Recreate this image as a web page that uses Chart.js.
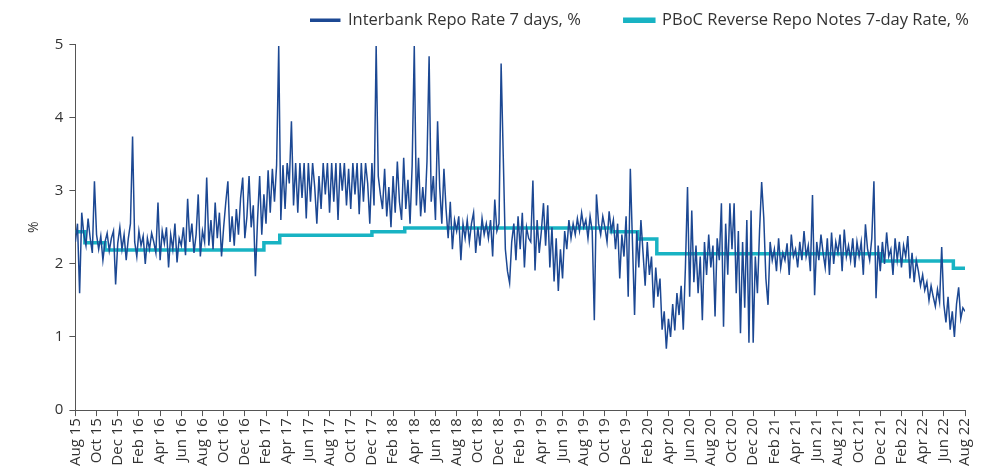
<!DOCTYPE html>
<html>
<head>
<meta charset="utf-8">
<script src="https://cdn.jsdelivr.net/npm/chart.js@4.4.1/dist/chart.umd.min.js"></script>
<style>
  html, body { margin: 0; padding: 0; background: #fff; }
  #wrap { width: 989px; height: 474px; }
</style>
</head>
<body>
<div id="wrap"><canvas id="myChart"></canvas></div>
<script>
// x axis: months since Aug 2015, labels every 2 months
const tickLabels = ["Aug 15", "Oct 15", "Dec 15", "Feb 16", "Apr 16", "Jun 16", "Aug 16", "Oct 16", "Dec 16",
    "Feb 17", "Apr 17", "Jun 17", "Aug 17", "Oct 17", "Dec 17", "Feb 18", "Apr 18", "Jun 18", "Aug 18",
    "Oct 18", "Dec 18", "Feb 19", "Apr 19", "Jun 19", "Aug 19", "Oct 19", "Dec 19", "Feb 20", "Apr 20",
    "Jun 20", "Aug 20", "Oct 20", "Dec 20", "Feb 21", "Apr 21", "Jun 21", "Aug 21", "Oct 21", "Dec 21",
    "Feb 22", "Apr 22", "Jun 22", "Aug 22"];

// Interbank repo rate 7 days, 5 readings per month from Aug 15
const perMonth = 5;
const interbankRates = [
    2.30, 2.55, 1.60, 2.70, 2.40,
    2.25, 2.62, 2.35, 2.15, 3.13,
    2.40, 2.20, 2.38, 2.05, 2.30,
    2.42, 2.18, 2.35, 2.45, 1.72,
    2.28, 2.50, 2.20, 2.40, 2.05,
    2.35, 2.55, 3.74, 2.30, 2.10,
    2.45, 2.25, 2.38, 2.00, 2.35,
    2.20, 2.42, 2.30, 2.15, 2.84,
    2.05, 2.45, 2.28, 2.50, 1.95,
    2.40, 2.20, 2.55, 2.02, 2.35,
    2.25, 2.50, 2.12, 2.89, 2.30,
    2.55, 2.15, 2.40, 2.95, 2.10,
    2.45, 2.30, 3.18, 2.25, 2.60,
    2.20, 2.84, 2.35, 2.70, 2.10,
    2.50, 2.84, 3.13, 2.30, 2.65,
    2.25, 2.75, 2.40, 2.90, 3.18,
    2.35, 2.65, 3.20, 2.50, 2.80,
    1.83, 2.60, 3.20, 2.40, 2.95,
    2.55, 3.28, 2.70, 3.30, 2.85,
    3.35, 4.98, 2.60, 3.35, 2.75,
    3.38, 3.10, 3.95, 2.80, 3.38,
    2.70, 3.38, 2.90, 3.38, 2.62,
    3.38, 2.85, 3.38, 3.05, 2.55,
    3.20, 2.75, 3.38, 2.95, 3.38,
    2.70, 3.38, 2.85, 3.38, 2.60,
    3.38, 3.00, 3.38, 2.80, 3.30,
    2.75, 3.38, 2.95, 3.38, 2.68,
    3.38, 2.85, 3.38, 3.10, 2.55,
    3.38, 2.80, 4.98, 3.20, 2.95,
    2.75, 3.30, 2.65, 3.05, 2.50,
    3.20, 2.70, 3.40, 2.85, 2.60,
    3.45, 2.75, 3.15, 2.55, 3.35,
    4.98, 2.80, 3.45, 2.65, 3.05,
    2.70, 3.40, 4.84, 2.85, 3.20,
    2.60, 3.95, 3.05, 2.55, 3.30,
    2.75, 2.35, 2.85, 2.20, 2.60,
    2.45, 2.65, 2.05, 2.55, 2.35,
    2.60, 2.30, 2.55, 2.70, 2.15,
    2.50, 2.25, 2.62, 2.40, 2.55,
    2.35, 2.60, 2.10, 2.88, 2.45,
    2.55, 4.74, 3.48, 2.20, 1.90,
    1.74, 2.30, 2.55, 2.05, 2.65,
    2.20, 2.70, 1.95, 2.50, 2.35,
    2.30, 3.14, 1.91, 2.60, 2.15,
    2.45, 2.83, 2.25, 2.80, 1.95,
    2.50, 1.76, 2.35, 1.63, 2.20,
    1.80, 2.45, 2.20, 2.60, 2.35,
    2.55, 2.40, 2.62, 2.45, 2.70,
    2.50, 2.60, 2.35, 2.65, 2.45,
    1.23, 2.95, 2.55, 2.40, 2.65,
    2.50, 2.30, 2.72, 2.45, 2.60,
    2.20, 2.55, 1.80, 2.40, 2.10,
    2.65, 1.55, 3.30, 2.30, 1.30,
    2.45, 1.95, 2.60, 2.15, 1.70,
    2.30, 1.85, 2.10, 1.40, 1.95,
    1.55, 1.80, 1.10, 1.35, 0.84,
    1.25, 1.00, 1.45, 1.09, 1.60,
    1.30, 1.70, 1.10, 1.95, 3.05,
    1.55, 2.73, 1.75, 2.25, 1.60,
    2.10, 1.23, 2.30, 1.85, 2.40,
    1.95, 2.25, 1.28, 2.35, 2.05,
    2.83, 1.14, 2.55, 1.85, 2.83,
    2.20, 2.83, 1.60, 2.45, 1.05,
    2.30, 1.40, 2.60, 0.92, 2.73,
    0.92, 2.10, 1.60, 2.45, 3.12,
    2.63, 1.80, 1.44, 2.30, 2.05,
    2.20, 1.90, 2.35, 1.95, 2.15,
    2.05, 2.28, 1.85, 2.40, 2.10,
    2.20, 1.95, 2.30, 2.05, 2.45,
    2.10, 2.25, 1.90, 2.94, 1.57,
    2.30, 2.05, 2.40, 2.15, 1.95,
    2.35, 1.85, 2.43, 2.00, 2.30,
    2.15, 2.40, 1.90, 2.47, 2.10,
    2.25, 2.05, 2.35, 1.95, 2.30,
    2.10, 2.30, 1.85, 2.54, 2.20,
    2.05, 2.35, 3.13, 1.53, 2.25,
    1.90, 2.30, 2.00, 2.43, 2.10,
    2.20, 1.85, 2.35, 2.05, 2.30,
    1.95, 2.25, 2.10, 2.38, 1.80,
    2.15, 1.75, 2.05, 1.90, 1.70,
    1.85, 1.64, 1.75, 1.50, 1.70,
    1.55, 1.42, 1.65, 1.48, 2.23,
    1.45, 1.20, 1.55, 1.10, 1.35,
    1.00, 1.45, 1.68, 1.25, 1.40,
    1.35
];

// PBoC reverse repo 7-day rate: month of each change and the new level
const pbocMonths = [0, 0.9, 2.8, 17.8, 19.3, 28.0, 31.1, 50.6, 53.1, 54.9, 76.1, 82.9, 84];
const pbocRates = [2.44, 2.29, 2.19, 2.29, 2.39, 2.44, 2.49, 2.44, 2.34, 2.14, 2.04, 1.94, 1.94];

const blue = "#1c4893";
const teal = "#18b3c3";
const txt = "#333333";
const axisCol = "#555555";

const interbankPts = interbankRates.map((v, i) => ({x: i / perMonth, y: v}));
const pbocPts = pbocMonths.map((m, i) => ({x: m, y: pbocRates[i]}));

Chart.defaults.font.family = "'Open Sans', sans-serif";
Chart.defaults.color = txt;

// leave a bit more room under the legend before the plot starts
const legendGap = {
    id: "legendGap",
    afterInit(chart) {
        const lg = chart.legend;
        const fit = lg.fit;
        lg.fit = function () {
            fit.call(this);
            this.height += 6;
        };
    }
};

new Chart("myChart", {
    type: "line",
    data: {
        datasets: [
            {
                label: "Interbank Repo Rate 7 days, %\u2003\u2003\u2002\u2009",
                data: interbankPts,
                borderColor: blue,
                backgroundColor: blue,
                borderWidth: 1.5,
                pointRadius: 0,
                tension: 0
            },
            {
                label: "PBoC Reverse Repo Notes 7-day Rate, %",
                data: pbocPts,
                borderColor: teal,
                backgroundColor: teal,
                borderWidth: 3.5,
                pointRadius: 0,
                stepped: true
            }
        ]
    },
    options: {
        responsive: true,
        maintainAspectRatio: false,
        animation: false,
        layout: { padding: { left: 20, right: 20, top: 12, bottom: 6 } },
        plugins: {
            legend: {
                align: "end",
                labels: {
                    boxWidth: 29,
                    boxHeight: 2,
                    padding: 0,
                    font: { size: 16.5 },
                    color: txt
                }
            },
            tooltip: { enabled: false }
        },
        scales: {
            x: {
                type: "linear",
                min: 0,
                max: 84,
                border: { color: axisCol, width: 1 },
                grid: { drawOnChartArea: false, drawTicks: true, tickLength: 6, color: axisCol },
                ticks: {
                    stepSize: 2,
                    autoSkip: false,
                    minRotation: 90,
                    maxRotation: 90,
                    font: { size: 15 },
                    color: txt,
                    padding: 2,
                    callback: (v) => tickLabels[v / 2]
                },
                afterFit: (scale) => { scale.paddingRight = 24; }
            },
            y: {
                min: 0,
                max: 5,
                border: { color: axisCol, width: 1 },
                grid: { drawOnChartArea: false, drawTicks: true, tickLength: 6, color: axisCol },
                ticks: { stepSize: 1, font: { size: 15 }, color: txt, padding: 6 },
                title: { display: true, text: "%", font: { size: 14 }, color: txt, padding: 6 }
            }
        }
    },
    plugins: [legendGap]
});
</script>
</body>
</html>
